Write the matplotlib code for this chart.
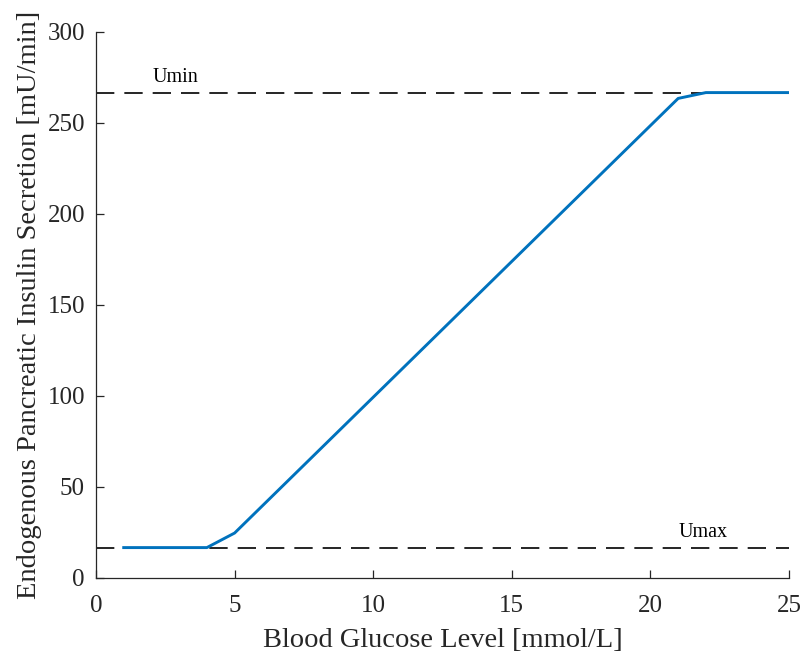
import matplotlib
matplotlib.use('Agg')
import matplotlib.pyplot as plt
import numpy as np

plt.rcParams.update({'font.family': 'Liberation Serif',
                     'mathtext.default': 'regular',
                     'xtick.direction': 'in',
                     'ytick.direction': 'in'})

# blood glucose [mmol/L] vs insulin secretion [mU/min]
glucose = [1, 4, 5, 21, 22, 25]
secretion = [16.7, 16.7, 24.7, 263.5, 266.7, 266.7]
u_low = 16.7
u_high = 266.7
x_ticks = [0, 5, 10, 15, 20, 25]
y_ticks = [0, 50, 100, 150, 200, 250, 300]

fig = plt.figure(figsize=(8.04, 6.58), dpi=100)
ax = fig.add_axes([0.1194, 0.1216, 0.862, 0.8298])

ax.plot([0, 25], [u_high, u_high], color='black', lw=1.2, dashes=(11, 6))
ax.plot([0, 25], [u_low, u_low], color='black', lw=1.2, dashes=(11, 6))
ax.plot(glucose, secretion, color='#0072BD', lw=2.1)

ax.text(2.85, u_high + 3, 'Umin', fontsize=14.5, ha='center', va='bottom')
ax.text(21.9, u_low + 3, 'Umax', fontsize=14.5, ha='center', va='bottom')

ax.set_xlim(0, 25)
ax.set_ylim(0, 300)
ax.set_xticks(x_ticks)
ax.set_yticks(y_ticks)
ax.tick_params(labelsize=18, length=6, width=0.9, colors='#262626')
ax.tick_params(axis='x', pad=12)
ax.tick_params(axis='y', pad=8)
ax.spines['top'].set_visible(False)
ax.spines['right'].set_visible(False)
for s in ['left', 'bottom']:
    ax.spines[s].set_color('#262626')
    ax.spines[s].set_linewidth(0.9)

ax.set_xlabel('Blood Glucose Level [mmol/L]', fontsize=20.5, color='#262626', labelpad=8)
ax.set_ylabel('Endogenous Pancreatic Insulin Secretion [mU/min]', fontsize=20.5, color='#262626', labelpad=4)

fig.savefig('out.png', dpi=100)
